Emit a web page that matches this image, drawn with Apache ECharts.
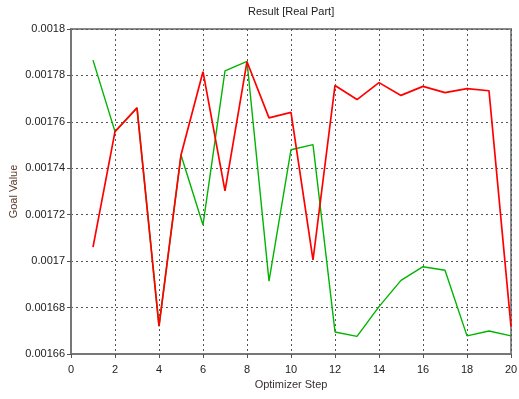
<!DOCTYPE html>
<html><head><meta charset="utf-8">
<script src="https://cdn.jsdelivr.net/npm/echarts@6/dist/echarts.min.js"></script>
<style>html,body{margin:0;padding:0;background:#fff}#c{width:519px;height:399px}</style>
</head><body><div id="c"></div>
<script>
var steps = [1,2,3,4,5,6,7,8,9,10,11,12,13,14,15,16,17,18,19,20];
var redValues = [0.001706,0.0017558,0.001766,0.001672,0.0017457,0.0017816,0.0017303,0.0017859,0.0017617,0.0017641,0.0017005,0.0017757,0.0017696,0.0017769,0.0017714,0.0017753,0.0017726,0.0017743,0.0017734,0.0016718];
var greenValues = [0.0017866,0.0017558,0.001766,0.001672,0.0017457,0.0017156,0.001782,0.0017861,0.0016914,0.001748,0.0017502,0.0016695,0.0016676,0.0016804,0.0016917,0.0016976,0.0016961,0.0016678,0.0016699,0.0016678];
var titleText = 'Result [Real Part]';
var xName = 'Optimizer Step';
var yName = 'Goal Value';
var FONT = '"Liberation Sans",Arial,sans-serif';
function pair(v){ return steps.map(function(s,i){ return [s, v[i]]; }); }
var chart = echarts.init(document.getElementById('c'), null, {renderer:'canvas'});
chart.setOption({
  animation:false,
  backgroundColor:'#fff',
  title:{ text:titleText, left:243, top:1, textStyle:{ fontFamily:FONT, fontSize:11, fontWeight:'normal', color:'#222' } },
  grid:{ left:71, right:8, top:29, bottom:45, outerBoundsMode:'none', containLabel:false, show:true, borderColor:'#8a8a8a', borderWidth:2, backgroundColor:'transparent' },
  xAxis:{ type:'value', min:0, max:20, interval:2,
    name:xName, nameLocation:'middle', nameGap:25, nameMoveOverlap:false,
    nameTextStyle:{ fontFamily:FONT, fontSize:11, color:'#3a3030' },
    axisLine:{ lineStyle:{ color:'#777', width:2 } },
    axisTick:{ show:true, length:4, lineStyle:{ color:'#555' } },
    axisLabel:{ fontFamily:FONT, fontSize:11, color:'#222', margin:10 },
    splitLine:{ show:true, lineStyle:{ type:[2,3], color:'#555', width:1 } } },
  yAxis:{ type:'value', min:0.00166, max:0.0018, interval:0.00002,
    name:yName, nameLocation:'middle', nameGap:52, nameMoveOverlap:false,
    nameTextStyle:{ fontFamily:FONT, fontSize:11, color:'#5a3a2a' },
    axisLine:{ show:true, lineStyle:{ color:'#777', width:2 } },
    axisTick:{ show:true, length:4, lineStyle:{ color:'#555' } },
    axisLabel:{ fontFamily:FONT, fontSize:11, color:'#222', margin:6,
      formatter:function(v){ return String(parseFloat(v.toPrecision(6))); } },
    splitLine:{ show:true, lineStyle:{ type:[2,3], color:'#555', width:1 } } },
  series:[
    { type:'line', data:pair(greenValues), showSymbol:false, symbol:'none', lineStyle:{ color:'#00b400', width:1.4 }, z:2 },
    { type:'line', data:pair(redValues), showSymbol:false, symbol:'none', lineStyle:{ color:'#ff0000', width:1.7 }, z:3 }
  ]
});
</script></body></html>
